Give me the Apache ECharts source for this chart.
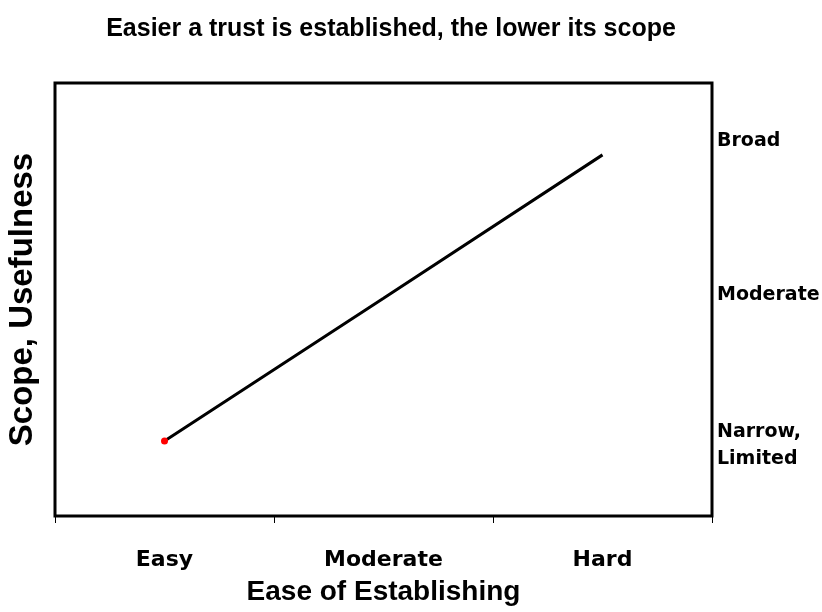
<!DOCTYPE html>
<html>
<head>
<meta charset="utf-8">
<script src="https://cdn.jsdelivr.net/npm/echarts@6/dist/echarts.min.js"></script>
<style>
html,body{margin:0;padding:0;background:#fff;}
#chartDiv{width:822px;height:612px;}
</style>
</head>
<body>
<div id="chartDiv"></div>
<script>
var ease=['Easy','Moderate','Hard'];
var scope=[1.73,5.03,8.34];
//right side labels and where they sit on the 0-10 scale
var scopeLabels=['Narrow,\nLimited','Moderate','Broad'];
var scopeLabelPos=[1.62,5.1,8.66];

var arial='Liberation Sans';
var wide='DejaVu Sans';
var myChart=echarts.init(document.getElementById('chartDiv'));

var lineData=scope.map(function(v,i){
	if(i==0){
		return {value:v,symbol:'circle',symbolSize:7,itemStyle:{color:'#ff0000'}};
	}
	return v;
});

var option={
	animation:false,
	backgroundColor:'#fff',
	title:{
		text:'Easier a trust is established, the lower its scope',
		left:386,
		top:12,
		textAlign:'center',
		textStyle:{fontFamily:arial,fontWeight:'bold',fontSize:25,color:'#000'}
	},
	grid:{
		left:55,right:110,top:83,bottom:96,
		outerBoundsMode:'none',
		containLabel:false,
		show:true,borderColor:'#000',borderWidth:3
	},
	xAxis:{
		type:'category',
		data:ease,
		boundaryGap:true,
		axisLine:{show:false},
		axisTick:{show:true,length:7,lineStyle:{color:'#000',width:1}},
		axisLabel:{margin:33,color:'#000',fontFamily:wide,fontWeight:'bold',fontSize:22},
		name:'Ease of Establishing',
		nameLocation:'middle',
		nameGap:62,
		nameTextStyle:{color:'#000',fontFamily:arial,fontWeight:'bold',fontSize:28}
	},
	yAxis:[{
		type:'value',
		min:0,max:10,
		position:'left',
		axisLine:{show:false},
		axisTick:{show:false},
		axisLabel:{show:false},
		splitLine:{show:false},
		name:'Scope, Usefulness',
		nameLocation:'middle',
		nameRotate:90,
		nameGap:16,
		nameTextStyle:{color:'#000',fontFamily:arial,fontWeight:'bold',fontSize:33}
	},{
		type:'value',
		min:0,max:10,
		position:'right',
		axisLine:{show:false},
		axisTick:{show:false},
		splitLine:{show:false},
		axisLabel:{
			show:true,
			customValues:scopeLabelPos,
			margin:5,
			align:'left',
			color:'#000',
			fontFamily:wide,
			fontWeight:'bold',
			fontSize:19,
			lineHeight:27,
			formatter:function(v){
				var i=scopeLabelPos.indexOf(v);
				return i>=0?scopeLabels[i]:'';
			}
		}
	}],
	series:[{
		type:'line',
		data:lineData,
		symbol:'none',
		lineStyle:{color:'#000',width:3},
		itemStyle:{color:'#000'}
	}]
};
myChart.setOption(option);
</script>
</body>
</html>
